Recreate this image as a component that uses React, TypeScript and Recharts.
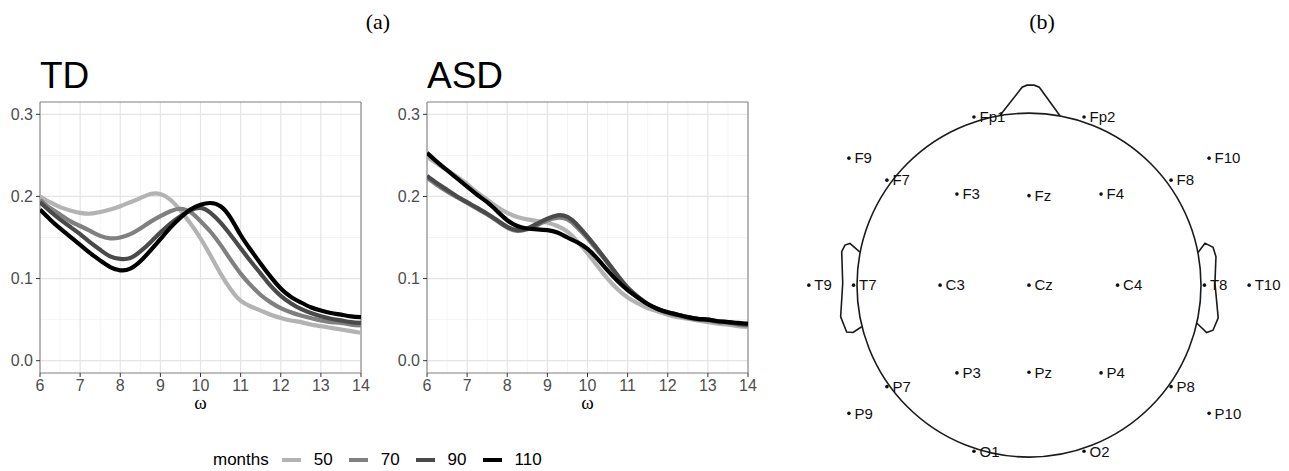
import {
  LineChart,
  Line,
  XAxis,
  YAxis,
  CartesianGrid,
  ReferenceArea,
  ReferenceDot,
  ScatterChart,
  Scatter,
  LabelList,
} from "recharts";

// frequency grid shared by all spectra
const OMEGA = [
  6, 6.25, 6.5, 6.75, 7, 7.25, 7.5, 7.75, 8, 8.25, 8.5, 8.75, 9, 9.25, 9.5, 9.75, 10,
  10.25, 10.5, 10.75, 11, 11.25, 11.5, 11.75, 12, 12.25, 12.5, 12.75, 13, 13.25, 13.5, 13.75, 14,
];

const TD_50 = [0.2, 0.193, 0.187, 0.183, 0.18, 0.179, 0.181, 0.184, 0.188, 0.193, 0.198, 0.203, 0.203, 0.196, 0.183, 0.167, 0.149, 0.128, 0.106, 0.087, 0.073, 0.066, 0.061, 0.056, 0.052, 0.049, 0.047, 0.044, 0.042, 0.04, 0.038, 0.036, 0.034];
const TD_70 = [0.196, 0.186, 0.178, 0.17, 0.164, 0.158, 0.152, 0.149, 0.15, 0.154, 0.161, 0.169, 0.176, 0.182, 0.185, 0.181, 0.17, 0.157, 0.141, 0.123, 0.106, 0.092, 0.08, 0.071, 0.064, 0.059, 0.055, 0.052, 0.049, 0.047, 0.046, 0.044, 0.043];
const TD_90 = [0.193, 0.182, 0.172, 0.163, 0.154, 0.144, 0.135, 0.127, 0.124, 0.125, 0.133, 0.144, 0.156, 0.167, 0.176, 0.183, 0.186, 0.18, 0.168, 0.153, 0.137, 0.121, 0.106, 0.091, 0.079, 0.07, 0.063, 0.058, 0.054, 0.051, 0.049, 0.047, 0.046];
const TD_110 = [0.184, 0.172, 0.161, 0.151, 0.141, 0.131, 0.122, 0.114, 0.11, 0.112, 0.121, 0.134, 0.148, 0.162, 0.174, 0.184, 0.19, 0.192, 0.188, 0.174, 0.153, 0.135, 0.118, 0.102, 0.088, 0.078, 0.071, 0.065, 0.061, 0.058, 0.056, 0.054, 0.053];

const ASD_50 = [0.248, 0.24, 0.232, 0.224, 0.215, 0.205, 0.196, 0.187, 0.18, 0.175, 0.172, 0.17, 0.168, 0.164, 0.157, 0.145, 0.131, 0.115, 0.1, 0.087, 0.077, 0.07, 0.064, 0.06, 0.056, 0.053, 0.051, 0.049, 0.047, 0.045, 0.044, 0.042, 0.041];
const ASD_70 = [0.223, 0.214, 0.206, 0.199, 0.192, 0.185, 0.178, 0.17, 0.162, 0.158, 0.16, 0.165, 0.171, 0.174, 0.172, 0.162, 0.149, 0.134, 0.119, 0.103, 0.089, 0.078, 0.069, 0.063, 0.058, 0.055, 0.052, 0.05, 0.049, 0.047, 0.046, 0.044, 0.043];
const ASD_90 = [0.225, 0.216, 0.208, 0.2, 0.193, 0.186, 0.179, 0.171, 0.163, 0.159, 0.161, 0.167, 0.173, 0.177, 0.175, 0.165, 0.151, 0.136, 0.12, 0.104, 0.089, 0.078, 0.069, 0.063, 0.059, 0.056, 0.053, 0.051, 0.05, 0.048, 0.047, 0.045, 0.044];
const ASD_110 = [0.253, 0.242, 0.232, 0.222, 0.212, 0.202, 0.193, 0.182, 0.171, 0.164, 0.161, 0.16, 0.159, 0.156, 0.15, 0.144, 0.136, 0.124, 0.11, 0.097, 0.086, 0.077, 0.069, 0.063, 0.059, 0.056, 0.053, 0.051, 0.05, 0.048, 0.047, 0.046, 0.045];

const MONTHS = ["50", "70", "90", "110"];
const MONTH_COLORS = ["#b3b3b3", "#808080", "#4a4a4a", "#000000"];

const X_TICKS = [6, 7, 8, 9, 10, 11, 12, 13, 14];
const X_MINOR = [6.5, 7.5, 8.5, 9.5, 10.5, 11.5, 12.5, 13.5];
const Y_TICKS = [0, 0.1, 0.2, 0.3];
const Y_MINOR = [0.05, 0.15, 0.25];
const Y_DOMAIN = [-0.015, 0.315];

// electrode layout, head radius = 1
const ELECTRODES = ["Fp1", "Fp2", "F9", "F10", "F7", "F8", "F3", "Fz", "F4", "T9", "T7", "C3", "Cz", "C4", "T8", "T10", "P3", "Pz", "P4", "P7", "P8", "P9", "P10", "O1", "O2"];
const ELECTRODE_X = [-0.32, 0.32, -1.047, 1.047, -0.826, 0.826, -0.419, 0, 0.419, -1.28, -1.02, -0.517, 0, 0.515, 1.02, 1.28, -0.419, 0, 0.419, -0.826, 0.826, -1.047, 1.047, -0.32, 0.32];
const ELECTRODE_Y = [0.977, 0.977, 0.738, 0.738, 0.61, 0.61, 0.529, 0.52, 0.529, 0, 0, 0, 0, 0, 0, 0, -0.51, -0.506, -0.51, -0.59, -0.59, -0.745, -0.745, -0.965, -0.965];

const NOSE = [
  { x: -0.169, y: 0.986 },
  { x: -0.04, y: 1.15 },
  { x: -0.012, y: 1.162 },
  { x: 0.03, y: 1.162 },
  { x: 0.06, y: 1.15 },
  { x: 0.18, y: 0.984 },
];
const LEFT_EAR = [
  { x: -0.983, y: 0.192 },
  { x: -1.041, y: 0.242 },
  { x: -1.07, y: 0.233 },
  { x: -1.089, y: 0.194 },
  { x: -1.083, y: 0.012 },
  { x: -1.095, y: -0.184 },
  { x: -1.06, y: -0.272 },
  { x: -1.023, y: -0.275 },
  { x: -0.973, y: -0.242 },
];
const RIGHT_EAR = [
  { x: 0.983, y: 0.19 },
  { x: 1.023, y: 0.244 },
  { x: 1.07, y: 0.22 },
  { x: 1.087, y: 0.165 },
  { x: 1.081, y: 0.012 },
  { x: 1.1, y: -0.19 },
  { x: 1.07, y: -0.262 },
  { x: 1.033, y: -0.275 },
  { x: 0.975, y: -0.22 },
];

const SANS = "'Liberation Sans', Arial, Helvetica, sans-serif";
const SERIF = "'Liberation Serif', 'Times New Roman', serif";

const HEAD_W = 516;
const HEAD_H = 444;
const HEAD_X_DOMAIN = [-1.5, 1.5];
const HEAD_Y_DOMAIN = [-1.08, 1.5];
const HEAD_R_PX = HEAD_W / (HEAD_X_DOMAIN[1] - HEAD_X_DOMAIN[0]);

function Panel({ series, left }: { series: number[][]; left: number }) {
  const data = OMEGA.map((w, i) => {
    const row: Record<string, number> = { w };
    series.forEach((s, k) => {
      row[`m${MONTHS[k]}`] = s[i];
    });
    return row;
  });

  return (
    <div style={{ position: "absolute", left, top: 0 }}>
      <LineChart width={380} height={420} data={data} margin={{ top: 102, right: 19, bottom: 0, left: 0 }}>
        <CartesianGrid horizontalValues={Y_MINOR} verticalValues={X_MINOR} stroke="#f1f1f1" strokeWidth={0.8} />
        <CartesianGrid horizontalValues={Y_TICKS} verticalValues={X_TICKS} stroke="#e4e4e4" strokeWidth={1.2} />
        <XAxis
          type="number"
          dataKey="w"
          domain={[6, 14]}
          ticks={X_TICKS}
          interval={0}
          allowDataOverflow
          height={47}
          tickSize={4}
          tickMargin={3}
          axisLine={false}
          tickLine={{ stroke: "#333" }}
          tick={{ fill: "#4d4d4d", fontSize: 16, fontFamily: SANS }}
          label={{ value: "ω", position: "insideBottom", offset: 11, fill: "#000", fontSize: 19, fontFamily: SERIF }}
        />
        <YAxis
          type="number"
          domain={Y_DOMAIN}
          ticks={Y_TICKS}
          interval={0}
          allowDataOverflow
          width={40}
          tickSize={4}
          tickMargin={3}
          axisLine={false}
          tickLine={{ stroke: "#333" }}
          tick={{ fill: "#4d4d4d", fontSize: 16, fontFamily: SANS }}
          tickFormatter={(v: number) => v.toFixed(1)}
        />
        <ReferenceArea x1={6} x2={14} y1={Y_DOMAIN[0]} y2={Y_DOMAIN[1]} fill="none" stroke="#7f7f7f" strokeWidth={1} />
        {MONTHS.map((m, k) => (
          <Line
            key={m}
            type="natural"
            dataKey={`m${m}`}
            stroke={MONTH_COLORS[k]}
            strokeWidth={4.2}
            dot={false}
            isAnimationActive={false}
          />
        ))}
      </LineChart>
    </div>
  );
}

function Head() {
  const electrodes = ELECTRODES.map((name, i) => ({ name, x: ELECTRODE_X[i], y: ELECTRODE_Y[i] }));
  const outline = { stroke: "#1a1a1a", strokeWidth: 1.6 };
  return (
    <div style={{ position: "absolute", left: 771, top: 27 }}>
      <ScatterChart width={HEAD_W} height={HEAD_H} margin={{ top: 0, right: 0, bottom: 0, left: 0 }}>
        <XAxis type="number" dataKey="x" domain={HEAD_X_DOMAIN} hide allowDataOverflow />
        <YAxis type="number" dataKey="y" domain={HEAD_Y_DOMAIN} hide allowDataOverflow />
        <ReferenceDot x={0} y={0} r={HEAD_R_PX} fill="none" stroke="#1a1a1a" strokeWidth={1.6} />
        <Scatter data={NOSE} line={outline} shape={() => <g />} isAnimationActive={false} />
        <Scatter data={LEFT_EAR} line={outline} shape={() => <g />} isAnimationActive={false} />
        <Scatter data={RIGHT_EAR} line={outline} shape={() => <g />} isAnimationActive={false} />
        <Scatter
          data={electrodes}
          isAnimationActive={false}
          shape={(p: any) => <circle cx={p.cx} cy={p.cy} r={1.8} fill="#111" />}
        >
          <LabelList dataKey="name" position="right" offset={1} fill="#111" fontSize={15} fontFamily={SANS} />
        </Scatter>
      </ScatterChart>
    </div>
  );
}

export default function App() {
  return (
    <div style={{ position: "absolute", left: 0, top: 0, width: 1289, height: 471, overflow: "hidden", background: "#fff" }}>
      <Panel series={[TD_50, TD_70, TD_90, TD_110]} left={0} />
      <Panel series={[ASD_50, ASD_70, ASD_90, ASD_110]} left={387} />
      <Head />
      <svg width={1289} height={471} style={{ position: "absolute", left: 0, top: 0, pointerEvents: "none" }}>
        <text x={378} y={29} textAnchor="middle" fontFamily={SERIF} fontSize={22} fill="#000">(a)</text>
        <text x={1042} y={29} textAnchor="middle" fontFamily={SERIF} fontSize={22} fill="#000">(b)</text>
        <text x={40} y={88} fontFamily={SANS} fontSize={37} fill="#000">TD</text>
        <text x={427} y={88} fontFamily={SANS} fontSize={37} fill="#000">ASD</text>
      </svg>
      <div
        style={{
          position: "absolute",
          left: 213,
          top: 450,
          display: "flex",
          alignItems: "center",
          fontFamily: SANS,
          fontSize: 17,
          color: "#000",
          lineHeight: "20px",
          whiteSpace: "nowrap",
        }}
      >
        <span style={{ marginRight: 13 }}>months</span>
        {MONTHS.map((m, k) => (
          <span key={m} style={{ display: "flex", alignItems: "center" }}>
            <span style={{ display: "inline-block", width: 19, height: 4, background: MONTH_COLORS[k], marginRight: 13 }} />
            <span style={{ marginRight: 16 }}>{m}</span>
          </span>
        ))}
      </div>
    </div>
  );
}
